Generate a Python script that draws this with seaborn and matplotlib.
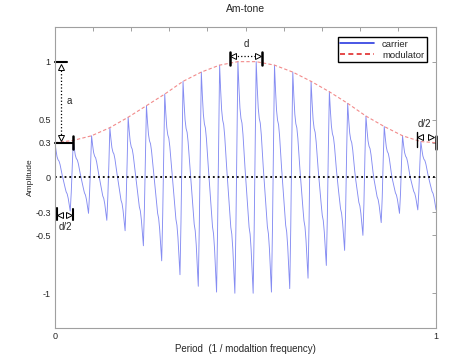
import numpy as np
import pandas as pd
import seaborn as sns
import matplotlib.pyplot as plt
from matplotlib.lines import Line2D

# one carrier cycle, starting at its peak (18 samples, normalised to +-1)
cycle_shape = [1.00, 0.78, 0.60, 0.51, 0.47, 0.37, 0.22, 0.08, -0.05, -0.18,
               -0.31, -0.43, -0.49, -0.62, -0.82, -1.00, -0.45, 0.30]
# heights of the carrier peaks and depths of the troughs, cycle by cycle
peak_env = [0.30, 0.32, 0.36, 0.43, 0.52, 0.62, 0.72, 0.83, 0.91, 0.97, 1.00,
            1.00, 0.97, 0.91, 0.83, 0.74, 0.64, 0.53, 0.44, 0.36, 0.31]
trough_env = [0.29, 0.31, 0.37, 0.46, 0.59, 0.72, 0.84, 0.94, 0.99, 1.00, 1.00,
              0.99, 0.96, 0.87, 0.76, 0.63, 0.50, 0.39, 0.31, 0.28, 0.28]
end_mod = 0.30  # modulator value at t = 1

ytick_vals = [-1, -0.5, -0.3, 0, 0.3, 0.5, 1]
ytick_text = ['-1', '-0.5', '-0.3', '0', '0.3', '0.5', '1']
xtick_vals = [0, 0.1, 0.2, 0.3, 0.4, 0.5, 0.6, 0.7, 0.8, 0.9, 1]
xtick_text = ['0', '', '', '', '', '', '', '', '', '', '1']

# build the carrier from the cycles (last cycle stops at its trough)
samples = []
for k in range(len(peak_env)):
    for i, s in enumerate(cycle_shape):
        if k == len(peak_env) - 1 and i > 15:
            break
        samples.append(s * (peak_env[k] if s >= 0 else trough_env[k]))
t = np.linspace(0, 1, len(samples))
carrier = pd.DataFrame({'t': t, 'amp': samples})

n = len(cycle_shape)
mod = pd.DataFrame({'t': list(t[::n][:len(peak_env)]) + [1.0],
                    'amp': peak_env + [end_mod]})

sns.set_style('white')
plt.rcParams['font.family'] = ['Liberation Sans', 'DejaVu Sans']

fig = plt.figure(figsize=(4.74, 3.59), dpi=100)
ax = fig.add_axes([0.116, 0.0864, 0.804, 0.8386])

sns.lineplot(data=carrier, x='t', y='amp', ax=ax, color='#858cf2', lw=0.65,
             estimator=None)
sns.lineplot(data=mod, x='t', y='amp', ax=ax, color='#f28a8a', lw=0.8,
             ls=(0, (3, 2)), estimator=None)
ax.axhline(0, color='k', ls=':', lw=1.3)

ax.set_xlim(0, 1)
ax.set_ylim(-1.3, 1.3)
ax.set_xticks(xtick_vals)
ax.set_xticklabels(xtick_text)
ax.set_yticks(ytick_vals)
ax.set_yticklabels(ytick_text)
ax.tick_params(direction='in', top=True, right=True, length=3, width=0.6,
               color='#909090', labelsize=6.5, pad=3)
for sp in ax.spines.values():
    sp.set_color('#a0a0a0')
    sp.set_linewidth(0.8)

ax.set_title('Am-tone', fontsize=7.5, pad=11)
ax.set_xlabel('Period  (1 / modaltion frequency)', fontsize=7, labelpad=2)
ax.set_ylabel('Amplitude', fontsize=6, labelpad=1)

# --- annotations ---
tri = dict(ls='none', ms=4, mfc='white', mec='k', mew=0.7, clip_on=False)
# a
ax.plot([0, 0.032], [1, 1], color='k', lw=1.5, clip_on=False)
ax.plot([0, 0.047], [0.3, 0.3], color='k', lw=1.5, clip_on=False)
ax.plot([0.047, 0.047], [0.25, 0.36], color='k', lw=1.8, clip_on=False)
ax.plot([0.016, 0.016], [0.95, 0.35], color='k', ls=':', lw=0.9)
ax.plot([0.016], [0.955], marker='^', **tri)
ax.plot([0.016], [0.345], marker='v', **tri)
ax.text(0.037, 0.66, 'a', fontsize=7, ha='center', va='center')

# d at top
ax.plot([0.459, 0.459], [0.97, 1.08], color='k', lw=1.8, clip_on=False)
ax.plot([0.543, 0.543], [0.97, 1.08], color='k', lw=1.8, clip_on=False)
ax.plot([0.47, 0.53], [1.05, 1.05], color='k', ls=':', lw=0.9)
ax.plot([0.468], [1.05], marker='<', **tri)
ax.plot([0.533], [1.05], marker='>', **tri)
ax.text(0.501, 1.15, 'd', fontsize=7, ha='center', va='center')

# d/2 at right
ax.plot([0.949, 0.949], [0.26, 0.39], color='k', lw=1.0, clip_on=False)
ax.plot([0.999, 0.999], [0.25, 0.36], color='k', lw=1.8, clip_on=False)
ax.plot([0.958], [0.35], marker='<', **tri)
ax.plot([0.987], [0.35], marker='>', **tri)
ax.text(0.968, 0.46, 'd/2', fontsize=7, ha='center', va='center')

# d/2 at lower left
ax.plot([0.004, 0.004], [-0.26, -0.37], color='k', lw=1.5, clip_on=False)
ax.plot([0.048, 0.048], [-0.27, -0.37], color='k', lw=1.5, clip_on=False)
ax.plot([0.013], [-0.32], marker='<', **tri)
ax.plot([0.037], [-0.32], marker='>', **tri)
ax.text(0.028, -0.43, 'd/2', fontsize=7, ha='center', va='center')

handles = [Line2D([], [], color='#2a3ae0', lw=1.2),
           Line2D([], [], color='#e02a2a', lw=1.2, ls=(0, (3, 2)))]
leg = ax.legend(handles, ['carrier', 'modulator'], loc='upper right',
                bbox_to_anchor=(0.976, 0.967), borderaxespad=0, fontsize=6.8,
                handlelength=3.6, fancybox=False, framealpha=1,
                edgecolor='k', borderpad=0.3, labelspacing=0.2,
                handletextpad=0.8)
leg.get_frame().set_linewidth(1.0)

fig.savefig('out.png', dpi=100)
